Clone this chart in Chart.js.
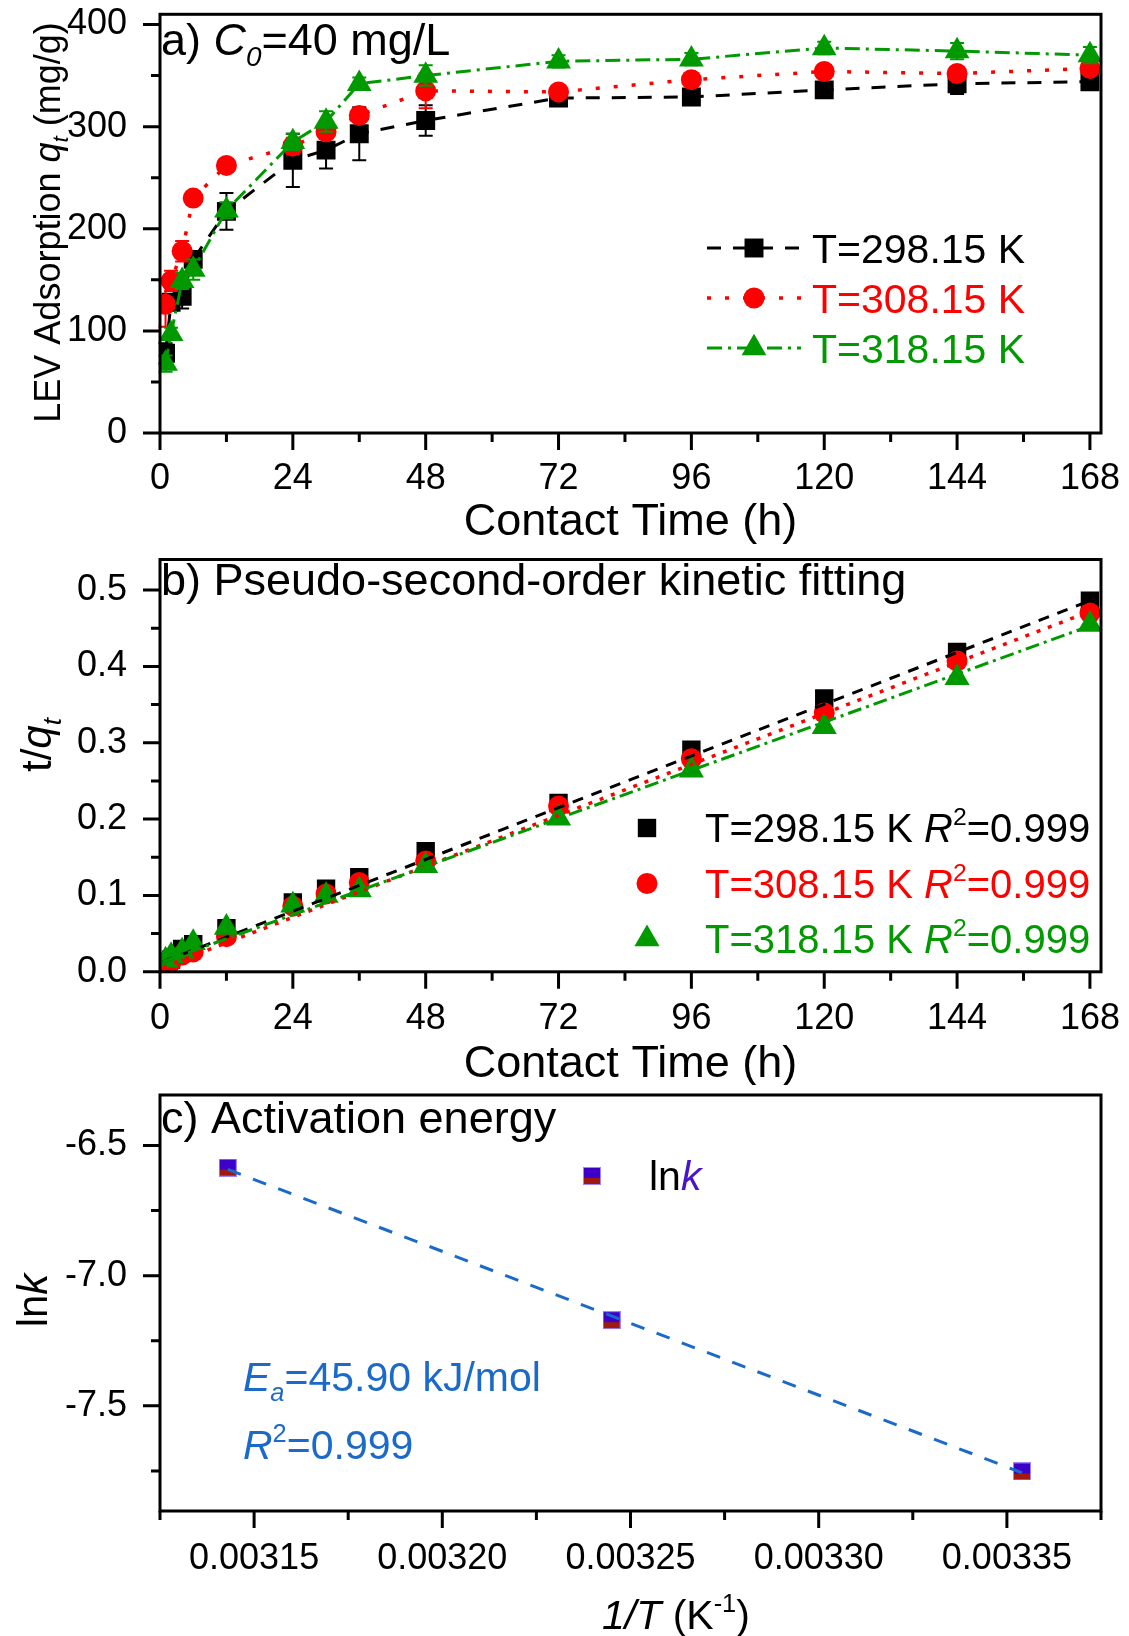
<!DOCTYPE html>
<html>
<head>
<meta charset="utf-8">
<script src="https://cdn.jsdelivr.net/npm/chart.js@4.4.1/dist/chart.umd.min.js"></script>
<style>
  html, body { margin: 0; padding: 0; background: #fff; }
  #wrap { position: relative; width: 1129px; height: 1636px; overflow: hidden; }
  .panel { position: absolute; left: 0; width: 1129px; }
  canvas { display: block; }
</style>
</head>
<body>
<div id="wrap">
  <div class="panel" style="top:0;height:545px"><canvas id="chartA" width="1129" height="545"></canvas></div>
  <div class="panel" style="top:545px;height:540px"><canvas id="chartB" width="1129" height="540"></canvas></div>
  <div class="panel" style="top:1085px;height:551px"><canvas id="chartC" width="1129" height="551"></canvas></div>
</div>
<script>
// ---- data ----
const times = [1, 2, 4, 6, 12, 24, 30, 36, 48, 72, 96, 120, 144, 168];

// a) adsorption q_t (mg/g)
const q298 = [78, 128, 134, 170, 217, 267, 277, 293, 306, 328, 329, 336, 342, 344];
const q308 = [126, 149, 178, 230, 262, 281, 295, 311, 335, 334, 346, 354, 352, 357];
const q318 = [68, 97, 149, 160, 218, 285, 305, 342, 350, 364, 366, 377, 374, 370];
const err298 = [10, 8, 12, 8, 18, 26, 18, 26, 15, 5, 5, 7, 10, 8];
const err308 = [22, 10, 10, 4, 4, 8, 5, 5, 17, 3, 4, 4, 4, 4];
const err318 = [8, 6, 8, 10, 8, 8, 10, 6, 10, 6, 6, 6, 8, 8];

// b) t/q_t
const tq298 = [0.013, 0.016, 0.030, 0.036, 0.057, 0.091, 0.109, 0.124, 0.158, 0.221, 0.291, 0.358, 0.419, 0.486];
const tq308 = [0.008, 0.013, 0.022, 0.026, 0.046, 0.086, 0.102, 0.117, 0.145, 0.217, 0.279, 0.339, 0.407, 0.470];
const tq318 = [0.015, 0.021, 0.027, 0.038, 0.058, 0.087, 0.100, 0.107, 0.139, 0.201, 0.264, 0.321, 0.385, 0.455];
const fitT = [0.5, 168];
const fit298 = [0.013, 0.486];
const fit308 = [0.006, 0.472];
const fit318 = [0.013, 0.453];

// c) Arrhenius
const invT = [0.003143, 0.003245, 0.003354];
const lnk = [-6.585, -7.171, -7.752];
const fitInvT = [0.003143, 0.003354];
const fitLnk = [-6.592, -7.757];

// ticks
const xTicksTime = [0, 24, 48, 72, 96, 120, 144, 168];
const xMinorTime = [12, 36, 60, 84, 108, 132, 156];
const yTicksA = [0, 100, 200, 300, 400];
const yMinorA = [50, 150, 250, 350];
const yTicksB = [0, 0.1, 0.2, 0.3, 0.4, 0.5];
const yMinorB = [0.05, 0.15, 0.25, 0.35, 0.45];
const xTicksC = [0.00315, 0.0032, 0.00325, 0.0033, 0.00335];
const xMinorC = [0.003125, 0.003175, 0.003225, 0.003275, 0.003325, 0.003375];
const yTicksC = [-7.5, -7.0, -6.5];
const yMinorC = [-7.75, -7.25, -6.75];

const FAMILY = '"Liberation Sans", Arial, Helvetica, sans-serif';
const BLACK = '#000000', RED = '#ff0000', GREEN = '#009900';
const BLUE = '#1b6ac9', PURPLE = '#4a14c8';
const TICK_FONT = 36;

Chart.defaults.font.family = FAMILY;
Chart.defaults.font.size = TICK_FONT;
Chart.defaults.color = '#000';

// rich text: parts = [text, flags, color]; flags: i italic, b subscript, p superscript
function rich(ctx, parts, x, y, size, opt = {}) {
  const items = parts.map(([t, f = '', c]) => {
    const small = f.includes('b') || f.includes('p');
    const fs = small ? size * 0.62 : size;
    const font = (f.includes('i') ? 'italic ' : '') + fs + 'px ' + FAMILY;
    ctx.font = font;
    const dy = f.includes('b') ? size * 0.24 : (f.includes('p') ? -size * 0.42 : 0);
    return { t, font, w: ctx.measureText(t).width, dy, c };
  });
  const total = items.reduce((s, it) => s + it.w, 0);
  ctx.save();
  ctx.translate(x, y);
  if (opt.rotate) ctx.rotate(opt.rotate);
  let cx = opt.align === 'center' ? -total / 2 : 0;
  ctx.textAlign = 'left';
  ctx.textBaseline = 'alphabetic';
  items.forEach(it => {
    ctx.font = it.font;
    ctx.fillStyle = it.c || opt.color || '#000';
    ctx.fillText(it.t, cx, it.dy);
    cx += it.w;
  });
  ctx.restore();
}

function marker(ctx, style, x, y, r, color) {
  ctx.save();
  ctx.fillStyle = color;
  ctx.beginPath();
  if (style === 'rect') {
    const s = r * Math.SQRT1_2;
    ctx.rect(x - s, y - s, 2 * s, 2 * s);
  } else if (style === 'circle') {
    ctx.arc(x, y, r, 0, Math.PI * 2);
  } else {
    const a = 2 * Math.PI / 3;
    ctx.moveTo(x, y - r);
    ctx.lineTo(x + Math.sin(a) * r, y - Math.cos(a) * r);
    ctx.lineTo(x + Math.sin(2 * a) * r, y - Math.cos(2 * a) * r);
    ctx.closePath();
  }
  ctx.fill();
  ctx.restore();
}

// half-filled square marker for panel c
function halfSquare(size) {
  const c = document.createElement('canvas');
  c.width = size; c.height = size;
  const g = c.getContext('2d');
  g.fillStyle = '#a0180e';
  g.fillRect(0, 0, size, size);
  g.fillStyle = '#3c00c8';
  g.fillRect(0, 0, size, Math.round(size * 0.6));
  g.strokeStyle = '#9a86ff';
  g.lineWidth = 1;
  g.strokeRect(0.5, 0.5, size - 1, size - 1);
  return c;
}
const lnkMarker = halfSquare(18);

// frame + outward major/minor ticks, error bars, extra annotations
function makeDecor(cfg) {
  return {
    id: 'decor',
    afterDatasetDraw(chart, args) {
      if (cfg.errors && cfg.errors[args.index]) {
        const { ctx, scales: { x, y } } = chart;
        const ds = chart.data.datasets[args.index];
        const err = cfg.errors[args.index];
        ctx.save();
        ctx.strokeStyle = ds.borderColor;
        ctx.lineWidth = 2;
        ctx.beginPath();
        ds.data.forEach((p, i) => {
          const px = x.getPixelForValue(p.x);
          const y1 = y.getPixelForValue(p.y - err[i]);
          const y2 = y.getPixelForValue(p.y + err[i]);
          ctx.moveTo(px, y1); ctx.lineTo(px, y2);
          ctx.moveTo(px - 7, y1); ctx.lineTo(px + 7, y1);
          ctx.moveTo(px - 7, y2); ctx.lineTo(px + 7, y2);
        });
        ctx.stroke();
        ctx.restore();
      }
    },
    afterDraw(chart) {
      const { ctx, chartArea: a, scales: { x, y } } = chart;
      ctx.save();
      ctx.strokeStyle = '#000';
      ctx.lineWidth = 3;
      ctx.strokeRect(a.left, a.top, a.right - a.left, a.bottom - a.top);
      ctx.beginPath();
      cfg.xMajor.forEach(v => { const p = x.getPixelForValue(v); ctx.moveTo(p, a.bottom); ctx.lineTo(p, a.bottom + 17); });
      cfg.xMinor.forEach(v => { const p = x.getPixelForValue(v); ctx.moveTo(p, a.bottom); ctx.lineTo(p, a.bottom + 9); });
      cfg.yMajor.forEach(v => { const p = y.getPixelForValue(v); ctx.moveTo(a.left, p); ctx.lineTo(a.left - 17, p); });
      cfg.yMinor.forEach(v => { const p = y.getPixelForValue(v); ctx.moveTo(a.left, p); ctx.lineTo(a.left - 9, p); });
      ctx.stroke();
      ctx.restore();
      if (cfg.extra) cfg.extra(ctx, chart);
    }
  };
}

function scaleOpts(min, max, ticks, fmt, fit, padding) {
  return {
    type: 'linear', min, max,
    afterBuildTicks: s => { s.ticks = ticks.map(v => ({ value: v })); },
    afterFit: s => {
      Object.assign(s, fit);
      s.paddingTop = 0; s.paddingBottom = 0; s.paddingLeft = 0; s.paddingRight = 0;
    },
    grid: { display: false, drawTicks: false },
    border: { display: false },
    ticks: { padding, color: '#000', font: { size: TICK_FONT }, maxRotation: 0, autoSkip: false, callback: fmt }
  };
}

function pts(xs, ys) { return xs.map((v, i) => ({ x: v, y: ys[i] })); }

const common = {
  responsive: false,
  animation: false,
  devicePixelRatio: 1,
  plugins: { legend: { display: false }, tooltip: { enabled: false } }
};

const dashBlack = [14, 12], dotRed = [4, 14], dashDotGreen = [15, 6, 3, 6];

// ---------- panel a ----------
function lineSeries(data, color, style, r, dash, width, order) {
  return {
    data, showLine: true, borderColor: color, backgroundColor: color,
    borderWidth: width, borderDash: dash, pointStyle: style, pointRadius: r,
    pointBorderWidth: 0, pointBackgroundColor: color, order
  };
}

new Chart(document.getElementById('chartA'), {
  type: 'scatter',
  data: {
    datasets: [
      lineSeries(pts(times, q298), BLACK, 'rect', 13.4, dashBlack, 3, 3),
      lineSeries(pts(times, q308), RED, 'circle', 10.5, dotRed, 3.5, 2),
      lineSeries(pts(times, q318), GREEN, 'triangle', 14.3, dashDotGreen, 3, 1)
    ]
  },
  options: {
    ...common,
    layout: { padding: { top: 12.5, right: 28, left: 0, bottom: 0 } },
    scales: {
      x: scaleOpts(0, 170, xTicksTime, v => String(v), { height: 545 - 433 }, 24),
      y: scaleOpts(0, 410, yTicksA, v => String(v), { width: 160 }, 33)
    }
  },
  plugins: [makeDecor({
    xMajor: xTicksTime, xMinor: xMinorTime, yMajor: yTicksA, yMinor: yMinorA,
    errors: [err298, err308, err318],
    extra(ctx) {
      rich(ctx, [['a) '], ['C', 'i'], ['0', 'ib'], ['=40 mg/L']], 161, 55, 45);
      rich(ctx, [['LEV Adsorption '], ['q', 'i'], ['t', 'ib'], [' (mg/g)']], 46.5 + 13, 222.5, 36,
        { rotate: -Math.PI / 2, align: 'center' });
      rich(ctx, [['Contact Time (h)']], 630.5, 535, 45, { align: 'center' });
      const leg = [
        ['T=298.15 K', BLACK, 'rect', 13.4, dashBlack, 3],
        ['T=308.15 K', RED, 'circle', 10.5, dotRed, 3.5],
        ['T=318.15 K', GREEN, 'triangle', 14.3, dashDotGreen, 3]
      ];
      leg.forEach(([txt, c, st, r, dash, w], i) => {
        const yc = 248 + i * 50;
        ctx.save();
        ctx.strokeStyle = c; ctx.lineWidth = w; ctx.setLineDash(dash);
        ctx.beginPath(); ctx.moveTo(707, yc); ctx.lineTo(801, yc); ctx.stroke();
        ctx.restore();
        marker(ctx, st, 754, yc, r, c);
        rich(ctx, [[txt]], 812, yc + 15, 41, { color: c });
      });
    }
  })]
});

// ---------- panel b ----------
function markerSeries(data, color, style, r, order) {
  return { data, showLine: false, pointStyle: style, pointRadius: r, pointBorderWidth: 0,
    pointBackgroundColor: color, backgroundColor: color, borderColor: color, order };
}
function fitSeries(data, color, dash, width, order) {
  return { data, showLine: true, pointRadius: 0, borderColor: color, borderWidth: width,
    borderDash: dash, order };
}

new Chart(document.getElementById('chartB'), {
  type: 'scatter',
  data: {
    datasets: [
      markerSeries(pts(times, tq298), BLACK, 'rect', 13, 6),
      markerSeries(pts(times, tq308), RED, 'circle', 10.5, 5),
      markerSeries(pts(times, tq318), GREEN, 'triangle', 14.5, 4),
      fitSeries(pts(fitT, fit298), BLACK, [11, 9], 3, 3),
      fitSeries(pts(fitT, fit308), RED, [4, 8], 3.5, 2),
      fitSeries(pts(fitT, fit318), GREEN, [14, 5, 3, 5], 3, 1)
    ]
  },
  options: {
    ...common,
    layout: { padding: { top: 5, right: 28, left: 0, bottom: 0 } },
    scales: {
      x: scaleOpts(0, 170, xTicksTime, v => String(v), { height: 540 - 426.8 }, 26),
      y: scaleOpts(0, 0.54, yTicksB, v => v.toFixed(1), { width: 160 }, 33)
    }
  },
  plugins: [makeDecor({
    xMajor: xTicksTime, xMinor: xMinorTime, yMajor: yTicksB, yMinor: yMinorB,
    extra(ctx) {
      rich(ctx, [['b) Pseudo-second-order kinetic fitting']], 161, 50, 45);
      rich(ctx, [['t/'], ['q', 'i'], ['t', 'ib']], 36 + 15, 200, 42, { rotate: -Math.PI / 2, align: 'center' });
      rich(ctx, [['Contact Time (h)']], 630.5, 532, 45, { align: 'center' });
      const leg = [
        ['T=298.15 K ', BLACK, 'rect', 13],
        ['T=308.15 K ', RED, 'circle', 10.5],
        ['T=318.15 K ', GREEN, 'triangle', 14.5]
      ];
      leg.forEach(([txt, c, st, r], i) => {
        const yc = 283 + i * 55.5;
        marker(ctx, st, 647, yc, r, c);
        rich(ctx, [[txt], ['R', 'i'], ['2', 'p'], ['=0.999']], 705, yc + 14, 40, { color: c });
      });
    }
  })]
});

// ---------- panel c ----------
new Chart(document.getElementById('chartC'), {
  type: 'scatter',
  data: {
    datasets: [
      { data: pts(fitInvT, fitLnk), showLine: true, pointRadius: 0, borderColor: BLUE,
        borderWidth: 3, borderDash: [14, 13], order: 0 },
      { data: pts(invT, lnk), showLine: false, pointStyle: lnkMarker, pointRadius: 9, order: 1 }
    ]
  },
  options: {
    ...common,
    layout: { padding: { top: 5, right: 28, left: 0, bottom: 0 } },
    scales: {
      x: scaleOpts(0.003125, 0.003375, xTicksC, v => v.toFixed(5), { height: 551 - 426 }, 26),
      y: scaleOpts(-7.904, -6.306, yTicksC, v => v.toFixed(1), { width: 160 }, 33)
    }
  },
  plugins: [makeDecor({
    xMajor: xTicksC, xMinor: xMinorC, yMajor: yTicksC, yMinor: yMinorC,
    extra(ctx) {
      rich(ctx, [['c) Activation energy']], 161, 47.5, 45);
      rich(ctx, [['ln'], ['k', 'i']], 32 + 15, 215.5, 42, { rotate: -Math.PI / 2, align: 'center' });
      rich(ctx, [['1/T', 'i'], [' (K'], ['-1', 'p'], [')']], 602, 544, 41);
      ctx.drawImage(lnkMarker, 592 - 9, 91 - 9);
      rich(ctx, [['ln'], ['k', 'i', PURPLE]], 649, 105, 41);
      rich(ctx, [['E', 'i'], ['a', 'ib'], ['=45.90 kJ/mol']], 243, 306, 41, { color: BLUE });
      rich(ctx, [['R', 'i'], ['2', 'p'], ['=0.999']], 243, 374, 41, { color: BLUE });
    }
  })]
});
</script>
</body>
</html>
